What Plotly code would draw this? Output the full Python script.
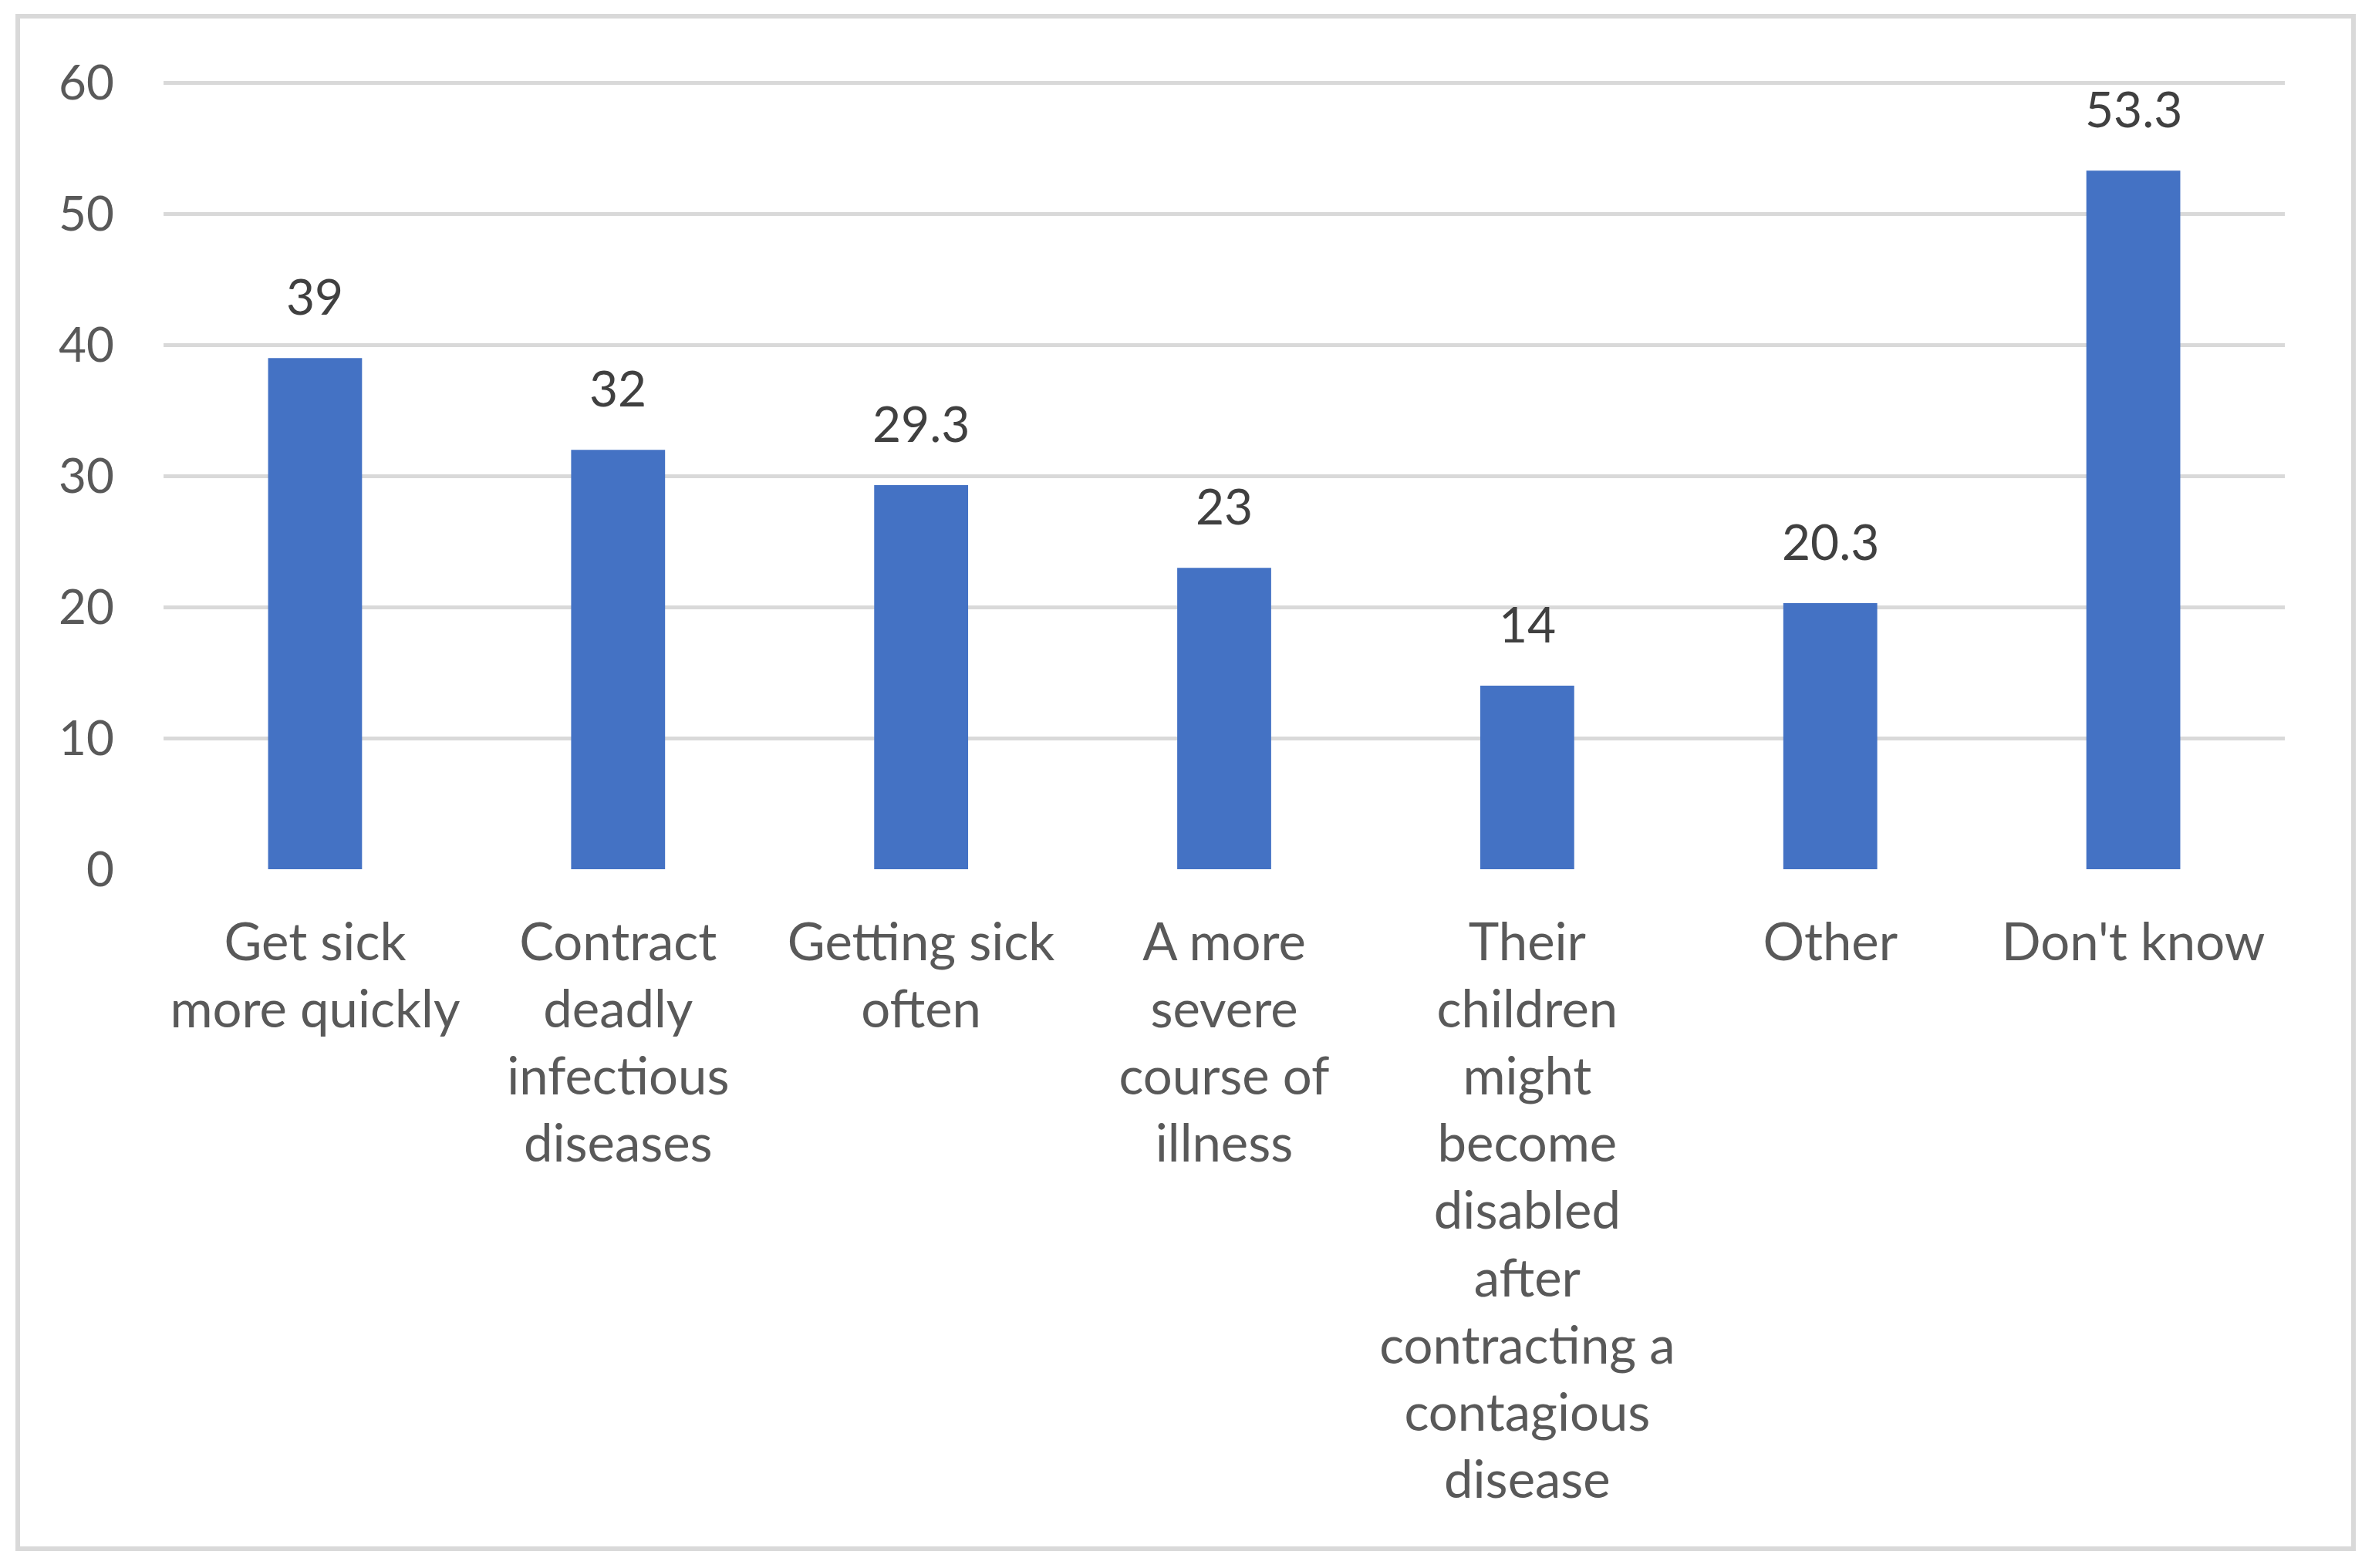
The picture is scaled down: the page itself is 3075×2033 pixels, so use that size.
import plotly.graph_objects as go

categories = [
    "Get sick<br>more quickly",
    "Contract<br>deadly<br>infectious<br>diseases",
    "Getting sick<br>often",
    "A more<br>severe<br>course of<br>illness",
    "Their<br>children<br>might<br>become<br>disabled<br>after<br>contracting a<br>contagious<br>disease",
    "Other",
    "Don't know",
]
values = [39, 32, 29.3, 23, 14, 20.3, 53.3]
y_ticks = [0, 10, 20, 30, 40, 50, 60]

W, H = 3075, 2033
L, R, T, B = 212, 113, 104, 906
FONT = "Lato"

fig = go.Figure()
fig.add_trace(go.Bar(
    x=list(range(len(categories))),
    y=values,
    marker=dict(color="#4472C4", line=dict(width=0)),
    width=0.31,
    hoverinfo="skip",
))

for i, v in enumerate(values):
    fig.add_annotation(
        x=i, y=v, text=f"{v:g}", showarrow=False,
        yanchor="bottom", xanchor="center", yshift=40,
        font=dict(family=FONT, size=64, color="#404040"),
    )

# outer border
pw, ph = W - L - R, H - T - B
fig.add_shape(
    type="rect", xref="paper", yref="paper",
    x0=(23 - L) / pw, x1=(3051 - L) / pw,
    y0=(H - 2008 - B) / ph, y1=(H - 21 - B) / ph,
    line=dict(color="#d9d9d9", width=6), fillcolor="rgba(0,0,0,0)",
    layer="below",
)

fig.update_layout(
    width=W, height=H,
    margin=dict(l=L, r=R, t=T, b=B),
    paper_bgcolor="white", plot_bgcolor="white",
    showlegend=False,
    font=dict(family=FONT, size=62, color="#595959"),
    xaxis=dict(
        tickmode="array",
        tickvals=list(range(len(categories))),
        ticktext=categories,
        range=[-0.5, len(categories) - 0.5],
        showgrid=False, zeroline=False, showline=False,
        ticks="", ticklabelstandoff=50,
        tickfont=dict(family=FONT, size=67, color="#595959"),
    ),
    yaxis=dict(
        range=[0, 60.2],
        tickmode="array", tickvals=y_ticks,
        ticktext=[str(t) for t in y_ticks],
        showgrid=True, gridcolor="#d9d9d9", gridwidth=5,
        zeroline=False, showline=False, ticks="",
        ticklabelstandoff=63,
        tickfont=dict(family=FONT, size=62, color="#595959"),
    ),
)

fig.write_html(
    "out.html",
    config={"displayModeBar": False},
    post_script="document.body.style.margin='0';document.body.style.overflow='hidden';",
)
